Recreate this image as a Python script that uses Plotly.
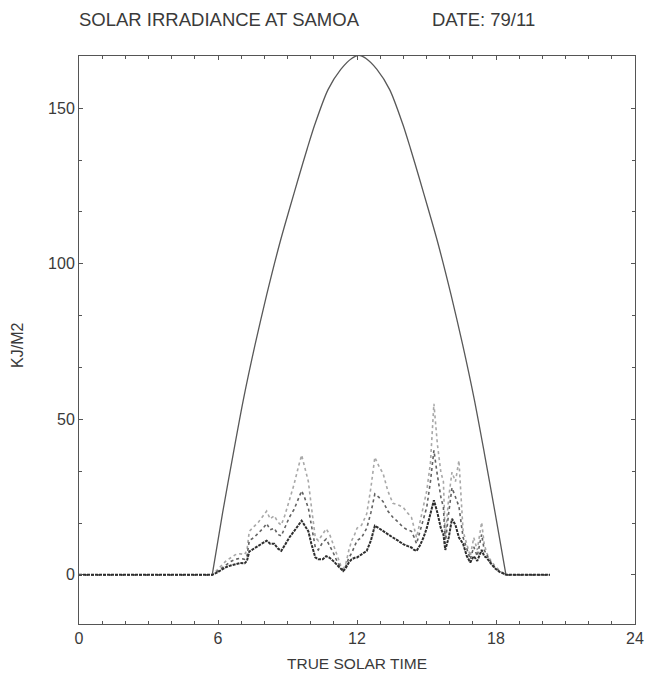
import plotly.graph_objects as go

# Clear-sky (extraterrestrial) curve
clear_t = [5.75, 6.2, 6.66, 7.1, 7.6, 8.1, 8.68, 9.1, 9.47, 9.85, 10.19, 10.75, 11.3,
           11.77, 12.08, 12.39, 12.86, 13.41, 13.97, 14.31, 14.69, 15.06, 15.48, 16.06,
           16.56, 17.06, 17.5, 17.96, 18.43]
clear_v = [0.0, 20.0, 39.0, 56.5, 74.0, 90.0, 107.0, 118.0, 127.5, 137.0, 145.0, 156.0,
           162.5, 166.0, 167.0, 166.0, 162.5, 156.0, 145.0, 137.0, 127.5, 118.0, 107.0,
           90.0, 74.0, 56.5, 39.0, 20.0, 0.0]

t = [0.0, 5.75, 5.95, 6.15, 6.35, 6.55, 6.75, 6.95, 7.15, 7.25, 7.35, 7.55, 7.75, 7.95,
     8.1, 8.25, 8.43, 8.58, 8.73, 8.88, 9.08, 9.28, 9.48, 9.61, 9.73, 9.9, 10.03, 10.2,
     10.33, 10.52, 10.67, 10.82, 10.97, 11.16, 11.3, 11.4, 11.5, 11.65, 11.77, 11.9,
     12.0, 12.2, 12.42, 12.6, 12.77, 12.94, 13.13, 13.33, 13.55, 13.77, 13.99, 14.17,
     14.35, 14.47, 14.57, 14.72, 14.87, 15.01, 15.17, 15.32, 15.47, 15.62, 15.73, 15.81,
     15.96, 16.1, 16.25, 16.4, 16.58, 16.74, 16.89, 17.04, 17.19, 17.38, 17.49, 17.6,
     17.74, 17.94, 18.14, 18.34, 18.44, 20.33]
top = [0, 0, 1.5, 3.0, 4.5, 5.5, 6.5, 6.8, 6.5, 8.0, 14.0, 15.5, 17.0, 19.0,
       20.5, 18.0, 19.0, 17.0, 16.0, 19.0, 24.0, 29.0, 35.0, 38.5, 35.0, 30.0, 22.0, 12.0,
       11.0, 13.0, 14.8, 13.0, 10.0, 6.0, 3.0, 2.0, 3.0, 8.0, 11.0, 13.0,
       15.0, 16.0, 19.6, 28.0, 37.8, 35.0, 32.5, 27.0, 23.0, 22.5, 21.7, 20.0,
       18.5, 15.0, 12.0, 17.0, 22.0, 27.0, 36.0, 55.0, 42.0, 33.0, 30.0, 12.0,
       25.0, 33.0, 30.0, 36.8, 14.0, 10.0, 6.0, 12.0, 8.0, 16.9, 10.0, 7.0,
       5.0, 3.0, 1.5, 0.5, 0, 0]
mid = [0, 0, 1.0, 2.2, 3.3, 4.3, 5.0, 5.3, 5.0, 6.0, 11.0, 12.0, 13.5, 15.0,
       16.5, 14.5, 15.0, 13.0, 12.5, 15.0, 18.5, 21.0, 25.0, 27.0, 25.0, 21.5, 16.0, 8.8,
       8.0, 10.5, 11.5, 9.5, 7.2, 4.0, 2.5, 1.5, 2.5, 5.5, 7.0, 9.5,
       11.0, 12.0, 15.0, 20.0, 26.0, 25.0, 23.5, 20.5, 18.5, 17.0, 15.3, 14.5,
       14.0, 12.0, 10.0, 14.0, 18.0, 21.7, 30.0, 40.0, 32.0, 25.0, 21.7, 10.0,
       20.0, 28.0, 25.0, 22.0, 12.0, 8.0, 5.0, 9.0, 6.0, 13.0, 8.0, 6.5,
       4.5, 2.5, 1.2, 0.4, 0, 0]
low = [0, 0, 0.7, 1.5, 2.5, 3.0, 3.5, 3.8, 3.7, 4.5, 7.5, 8.5, 9.5, 10.5,
       11.0, 10.0, 10.0, 8.5, 7.7, 9.5, 12.0, 14.0, 16.0, 17.4, 16.0, 14.0, 10.0, 5.6,
       5.0, 5.0, 6.0, 5.5, 4.5, 3.0, 2.0, 1.2, 2.0, 4.0, 5.0, 5.5,
       5.6, 6.5, 7.7, 11.0, 15.8, 15.0, 14.0, 13.0, 12.0, 11.0, 9.9, 9.3,
       8.8, 8.0, 7.7, 9.5, 12.0, 15.0, 20.0, 24.0, 20.0, 15.0, 13.0, 8.0,
       12.0, 18.0, 16.0, 12.0, 10.0, 6.0, 4.0, 6.0, 4.5, 8.0, 6.0, 5.5,
       4.0, 2.2, 1.0, 0.3, 0, 0]

x_ticks = [0, 6, 12, 18, 24]
y_ticks = [0, 50, 100, 150]

FONT = "Liberation Sans, Arial, sans-serif"
TXT = "#3a3a3a"
AX = "#555555"

fig = go.Figure()
fig.add_trace(go.Scatter(x=clear_t, y=clear_v, mode="lines",
                         line=dict(color="#585858", width=1.3, shape="spline", smoothing=0.8)))
fig.add_trace(go.Scatter(x=t, y=top, mode="lines",
                         line=dict(color="#a8a8a8", width=1.6, dash="dot")))
fig.add_trace(go.Scatter(x=t, y=mid, mode="lines",
                         line=dict(color="#626262", width=1.6, dash="dot")))
fig.add_trace(go.Scatter(x=t, y=low, mode="lines",
                         line=dict(color="#2e2e2e", width=2.0, dash="3px,1px")))

fig.update_layout(
    width=647, height=678,
    margin=dict(l=79, r=12, t=56, b=54, autoexpand=False),
    paper_bgcolor="white", plot_bgcolor="white",
    showlegend=False,
    font=dict(family=FONT, size=16, color=TXT),
    annotations=[
        dict(text="SOLAR IRRADIANCE AT SAMOA", xref="paper", yref="paper",
             x=-0.004, y=1.065, xanchor="left", yanchor="middle", showarrow=False,
             font=dict(family=FONT, size=18.5, color=TXT)),
        dict(text="DATE: 79/11", xref="paper", yref="paper",
             x=0.631, y=1.065, xanchor="left", yanchor="middle", showarrow=False,
             font=dict(family=FONT, size=18.5, color=TXT)),
        dict(text="TRUE SOLAR TIME", xref="paper", yref="paper",
             x=0.5, y=-0.07, xanchor="center", yanchor="middle", showarrow=False,
             font=dict(family=FONT, size=15.5, color=TXT)),
        dict(text="KJ/M2", xref="paper", yref="paper", textangle=-90,
             x=-0.111, y=0.49, xanchor="center", yanchor="middle", showarrow=False,
             font=dict(family=FONT, size=16, color=TXT)),
    ],
)
fig.update_xaxes(range=[0, 24], tickvals=x_ticks, ticktext=[str(v) for v in x_ticks],
                 automargin=False, ticklabeloverflow="allow",
                 showgrid=False, zeroline=False, showline=True, linecolor=AX,
                 linewidth=1, mirror="ticks", ticks="inside", ticklen=4,
                 tickcolor=AX,
                 minor=dict(dtick=1, tick0=0, ticks="inside", ticklen=3,
                            tickcolor=AX, showgrid=False))
fig.update_yaxes(range=[-15.8, 166.8], tickvals=y_ticks, ticktext=[str(v) for v in y_ticks],
                 automargin=False,
                 showgrid=False, zeroline=False, showline=True, linecolor=AX,
                 linewidth=1, mirror="ticks", ticks="inside", ticklen=4,
                 tickcolor=AX,
                 minor=dict(dtick=50 / 3, tick0=0, ticks="inside", ticklen=3,
                            tickcolor=AX, showgrid=False))

# remove the browser's default 8px body margin so the figure fills the window exactly
fig.write_html("out.html", config={"displayModeBar": False},
               post_script="document.body.style.margin='0px';")
